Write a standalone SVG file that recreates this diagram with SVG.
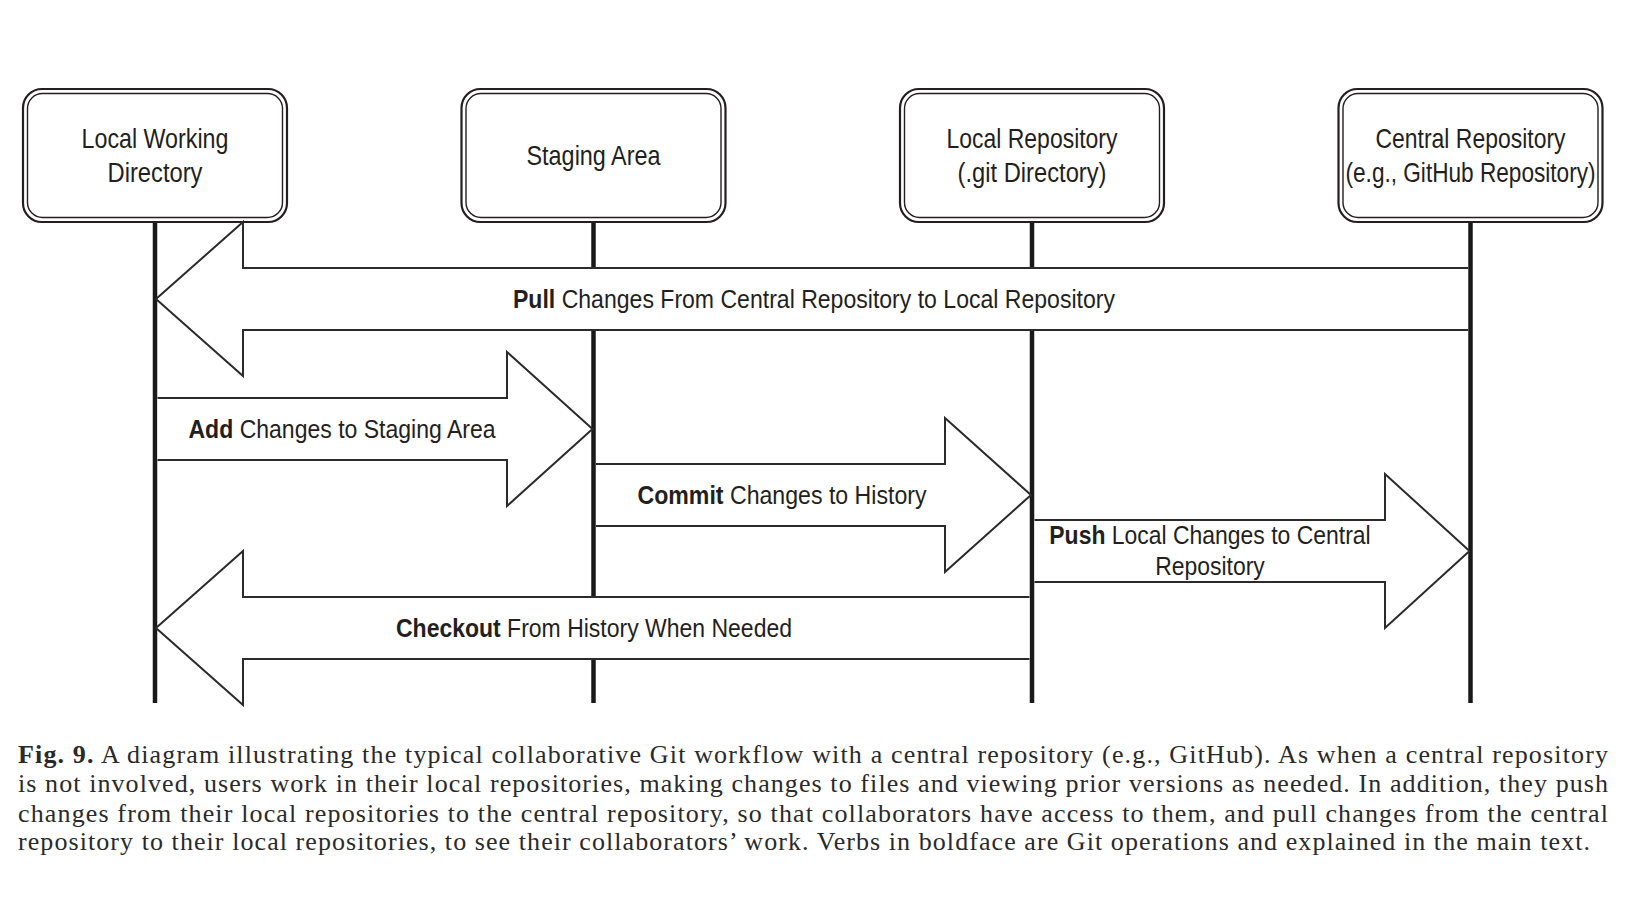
<svg xmlns="http://www.w3.org/2000/svg" width="1650" height="900" viewBox="0 0 1650 900">
<style>
.box-o{fill:#fff;stroke:#231f20;stroke-width:2.2}
.box-i{fill:none;stroke:#231f20;stroke-width:1.4}
.life{stroke:#1a1a1a;stroke-width:4.5;fill:none}
.arr{fill:#fff;stroke:#2b2b2b;stroke-width:2;stroke-linejoin:miter}
.lbl{font-family:'Liberation Sans',Arial,sans-serif;font-size:27.5px;fill:#231f20;text-anchor:middle}
.al{font-family:'Liberation Sans',Arial,sans-serif;font-size:25.5px;fill:#231f20;text-anchor:middle}
.b{font-weight:bold}
.cap{font-family:'Liberation Serif','Times New Roman',serif;font-size:26px;fill:#2a2a2a}
</style>
<rect width="1650" height="900" fill="#fff"/>
<g id="lifelines">
<line class="life" x1="155" y1="222" x2="155" y2="703"/>
<line class="life" x1="593.5" y1="222" x2="593.5" y2="703"/>
<line class="life" x1="1032" y1="222" x2="1032" y2="703"/>
<line class="life" x1="1470.5" y1="222" x2="1470.5" y2="703"/>
</g>
<g id="node-working">
<rect class="box-o" x="23" y="89" width="264" height="133" rx="19"/>
<rect class="box-i" x="27.5" y="93.5" width="255" height="124" rx="15"/>
<text class="lbl" x="155" y="148" textLength="147" lengthAdjust="spacingAndGlyphs">Local Working</text>
<text class="lbl" x="155" y="181.5" textLength="95" lengthAdjust="spacingAndGlyphs">Directory</text>
</g>
<g id="node-staging">
<rect class="box-o" x="461.5" y="89" width="264" height="133" rx="19"/>
<rect class="box-i" x="466" y="93.5" width="255" height="124" rx="15"/>
<text class="lbl" x="593.5" y="165" textLength="134" lengthAdjust="spacingAndGlyphs">Staging Area</text>
</g>
<g id="node-local-repo">
<rect class="box-o" x="900" y="89" width="264" height="133" rx="19"/>
<rect class="box-i" x="904.5" y="93.5" width="255" height="124" rx="15"/>
<text class="lbl" x="1032" y="148" textLength="171" lengthAdjust="spacingAndGlyphs">Local Repository</text>
<text class="lbl" x="1032" y="181.5" textLength="149" lengthAdjust="spacingAndGlyphs">(.git Directory)</text>
</g>
<g id="node-central-repo">
<rect class="box-o" x="1338.5" y="89" width="264" height="133" rx="19"/>
<rect class="box-i" x="1343" y="93.5" width="255" height="124" rx="15"/>
<text class="lbl" x="1470.5" y="148" textLength="190" lengthAdjust="spacingAndGlyphs">Central Repository</text>
<text class="lbl" x="1470.5" y="181.5" textLength="250" lengthAdjust="spacingAndGlyphs">(e.g., GitHub Repository)</text>
</g>
<g id="connectors">
<g id="pull">
<path class="arr" d="M1468,268 H243 V222 L156,299 L243,376 V330 H1468"/>
<text class="al" x="814" y="307.5" textLength="602" lengthAdjust="spacingAndGlyphs"><tspan class="b">Pull</tspan> Changes From Central Repository to Local Repository</text>
</g>
<g id="add">
<path class="arr" d="M157.5,398 H507 V352 L592.5,429 L507,506 V460 H157.5"/>
<text class="al" x="342" y="438" textLength="307" lengthAdjust="spacingAndGlyphs"><tspan class="b">Add</tspan> Changes to Staging Area</text>
</g>
<g id="commit">
<path class="arr" d="M596,464 H945 V418 L1031,495 L945,572 V526 H596"/>
<text class="al" x="782" y="504" textLength="289" lengthAdjust="spacingAndGlyphs"><tspan class="b">Commit</tspan> Changes to History</text>
</g>
<g id="push">
<path class="arr" d="M1034.5,520 H1385 V474 L1469.5,551 L1385,628 V582 H1034.5"/>
<g transform="translate(1210,0) scale(0.9,1)">
<text class="al" x="0" y="544.5"><tspan class="b">Push</tspan> Local Changes to Central</text>
<text class="al" x="0" y="575">Repository</text>
</g>
</g>
<g id="checkout">
<path class="arr" d="M1029.5,597 H243 V551 L156,628 L243,705 V659 H1029.5"/>
<text class="al" x="594" y="637" textLength="396" lengthAdjust="spacingAndGlyphs"><tspan class="b">Checkout</tspan> From History When Needed</text>
</g>
</g>
<g id="caption">
<text class="cap" x="18" y="762.5" textLength="1590" lengthAdjust="spacing"><tspan font-weight="bold">Fig. 9.</tspan> A diagram illustrating the typical collaborative Git workflow with a central repository (e.g., GitHub). As when a central repository</text>
<text class="cap" x="18" y="792" textLength="1590" lengthAdjust="spacing">is not involved, users work in their local repositories, making changes to files and viewing prior versions as needed. In addition, they push</text>
<text class="cap" x="18" y="821.5" textLength="1590" lengthAdjust="spacing">changes from their local repositories to the central repository, so that collaborators have access to them, and pull changes from the central</text>
<text class="cap" x="18" y="850" textLength="1572" lengthAdjust="spacing">repository to their local repositories, to see their collaborators’ work. Verbs in boldface are Git operations and explained in the main text.</text>
</g>
</svg>
